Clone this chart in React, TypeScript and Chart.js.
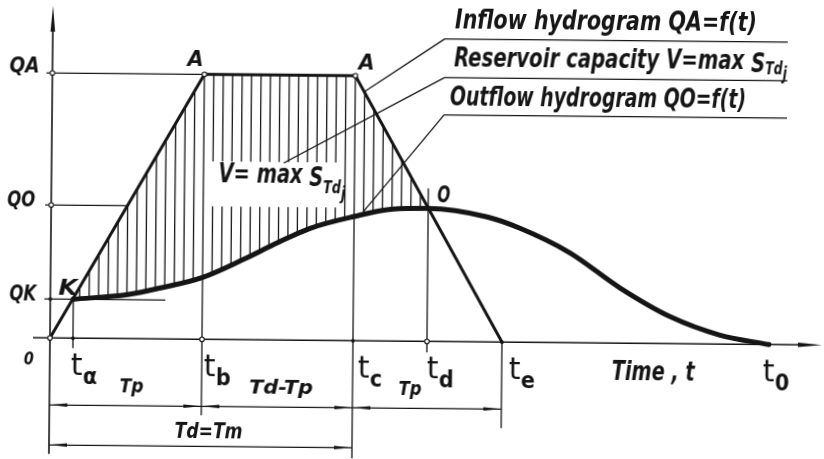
import { useEffect, useRef } from 'react';
import { Chart, registerables } from 'chart.js';

Chart.register(...registerables);

// Inflow hydrogram (trapezoid): time, discharge
const inflowTime = [0, 15.2, 30.3, 45.2];
const inflowQ = [0, 26.5, 26.5, 0];

// Outflow hydrogram from K through the peak O down to t0
const outflowTime = [2.3, 7.7, 11.0, 15.2, 19.2, 22.6, 25.9, 30.2, 34.2, 37.7, 43.6, 46.9, 51.9, 57.0, 62.0, 67.0, 71.9];
const outflowQ = [3.9, 4.4, 5.1, 6.2, 8.0, 9.7, 11.2, 12.4, 13.2, 13.3, 12.5, 11.4, 9.0, 5.5, 2.7, 0.9, 0];

// Discharge levels on the vertical axis
const levelNames = ['QA', 'QO', 'QK'];
const levelValues = [26.5, 13.3, 3.9];

// Characteristic instants on the time axis
const timeSubs = ['α', 'b', 'c', 'd', 'e', '0'];
const timeValues = [2.3, 15.2, 30.3, 37.7, 45.2, 71.9];

// Dimension chains below the time axis
const spanFrom = [0, 15.2, 30.3];
const spanTo = [15.2, 30.3, 45.2];
const spanNames = ['Tp', 'Td-Tp', 'Tp'];
const totalSpanName = 'Td=Tm';

const X_MIN = -5.1;
const X_MAX = 77.3;
const Y_MIN = -11.77;
const Y_MAX = 34.13;

const INK = '#151515';
const FAMILY = '"DejaVu Sans", sans-serif';

type Seg = { s: string; size: number; dy?: number; weight?: string; style?: string };

const fontOf = (g: Seg) => `${g.style ?? 'italic'} ${g.weight ?? 'bold'} ${g.size}px ${FAMILY}`;

// Draws a run of text pieces (with subscript offsets), optionally fitted to a width.
function rich(
  ctx: CanvasRenderingContext2D,
  segs: Seg[],
  x: number,
  y: number,
  opts: { width?: number; squeeze?: number; align?: 'left' | 'center' | 'right' } = {}
) {
  const ws: number[] = [];
  let total = 0;
  for (const g of segs) {
    ctx.font = fontOf(g);
    const w = ctx.measureText(g.s).width;
    ws.push(w);
    total += w;
  }
  const k = opts.width ? opts.width / total : opts.squeeze ?? 1;
  const drawn = total * k;
  let left = x;
  if (opts.align === 'center') left = x - drawn / 2;
  if (opts.align === 'right') left = x - drawn;
  ctx.save();
  ctx.translate(left, y);
  ctx.scale(k, 1);
  ctx.textBaseline = 'alphabetic';
  ctx.textAlign = 'left';
  let cx = 0;
  segs.forEach((g, i) => {
    ctx.font = fontOf(g);
    ctx.fillText(g.s, cx, g.dy ?? 0);
    cx += ws[i];
  });
  ctx.restore();
  return drawn;
}

function seg(ctx: CanvasRenderingContext2D, x1: number, y1: number, x2: number, y2: number) {
  ctx.beginPath();
  ctx.moveTo(x1, y1);
  ctx.lineTo(x2, y2);
  ctx.stroke();
}

function arrowHead(ctx: CanvasRenderingContext2D, tx: number, ty: number, dx: number, dy: number, len: number, half: number) {
  const bx = tx - dx * len;
  const by = ty - dy * len;
  const nx = -dy;
  const ny = dx;
  ctx.beginPath();
  ctx.moveTo(tx, ty);
  ctx.lineTo(bx + nx * half, by + ny * half);
  ctx.lineTo(bx - nx * half, by - ny * half);
  ctx.closePath();
  ctx.fill();
}

function ring(ctx: CanvasRenderingContext2D, x: number, y: number, r = 2.3) {
  ctx.save();
  ctx.beginPath();
  ctx.arc(x, y, r, 0, Math.PI * 2);
  ctx.fillStyle = '#fff';
  ctx.fill();
  ctx.lineWidth = 1.1;
  ctx.stroke();
  ctx.restore();
}

function dot(ctx: CanvasRenderingContext2D, x: number, y: number, r = 1.9) {
  ctx.beginPath();
  ctx.arc(x, y, r, 0, Math.PI * 2);
  ctx.fill();
}

function lerp(ts: number[], qs: number[], t: number) {
  for (let i = 1; i < ts.length; i++) {
    if (t <= ts[i]) {
      const f = (t - ts[i - 1]) / (ts[i] - ts[i - 1]);
      return qs[i - 1] + f * (qs[i] - qs[i - 1]);
    }
  }
  return qs[qs.length - 1];
}

const diagramPlugin = {
  id: 'hydrogramDiagram',
  afterDatasetsDraw(chart: any) {
    const ctx: CanvasRenderingContext2D = chart.ctx;
    const H = chart.height;
    const xs = chart.scales.x;
    const ys = chart.scales.y;
    const X = (v: number) => xs.getPixelForValue(v);
    const Y = (v: number) => ys.getPixelForValue(v);
    const [QA, QO, QK] = levelValues;
    const [ta, tb, tc, td, te] = timeValues;
    const x0 = X(0);
    const y0 = Y(0);

    ctx.save();
    ctx.strokeStyle = INK;
    ctx.fillStyle = INK;
    ctx.lineCap = 'butt';

    // "V = max S" label anchor inside the stored volume
    const vx = X(tb) + 15;
    const vy = Y(QO) - 24;
    const gap = { l: vx - 13, r: vx + 125, t: vy - 21, b: vy + 24 };

    // Vertical hatching of the stored volume: inside the inflow trapezoid, above the outflow curve
    const meta = chart.getDatasetMeta(1);
    const pts = meta.data as any[];
    ctx.save();
    ctx.beginPath();
    inflowTime.forEach((t, i) => (i ? ctx.lineTo(X(t), Y(inflowQ[i])) : ctx.moveTo(X(t), Y(inflowQ[i]))));
    ctx.closePath();
    ctx.clip();
    ctx.beginPath();
    let traced = false;
    try {
      const el: any = meta.dataset;
      if (el && typeof el.path === 'function') {
        el.path(ctx);
        traced = true;
      }
    } catch {
      traced = false;
    }
    if (!traced) {
      ctx.beginPath();
      pts.forEach((p, i) => (i ? ctx.lineTo(p.x, p.y) : ctx.moveTo(p.x, p.y)));
    }
    ctx.lineTo(pts[pts.length - 1].x, 0);
    ctx.lineTo(pts[0].x, 0);
    ctx.closePath();
    ctx.clip();
    const step = (X(tc) - X(tb)) / 16;
    ctx.lineWidth = 1.3;
    for (let k = -15; k <= 26; k++) {
      if (k === 0 || k === 16) continue;
      const x = X(tb) + k * step;
      ctx.beginPath();
      if (x > gap.l && x < gap.r) {
        ctx.moveTo(x, 0);
        ctx.lineTo(x, gap.t);
        ctx.moveTo(x, gap.b);
        ctx.lineTo(x, H);
      } else {
        ctx.moveTo(x, 0);
        ctx.lineTo(x, H);
      }
      ctx.stroke();
    }
    ctx.restore();

    // Axes
    ctx.lineWidth = 1.6;
    seg(ctx, x0, y0 + 116, x0, 30);
    arrowHead(ctx, x0, 9, 0, -1, 26, 2.3);
    seg(ctx, 34, y0, 806, y0);
    arrowHead(ctx, 823, y0, 1, 0, 24, 2.3);

    // Level guides
    ctx.lineWidth = 1.3;
    seg(ctx, x0 - 6, Y(QA), X(tb), Y(QA));
    seg(ctx, x0 - 6, Y(QO), X((QO / QA) * tb), Y(QO));
    seg(ctx, x0 - 6, Y(QK), X(ta + 9.2), Y(QK));

    // Time guides
    seg(ctx, X(ta), Y(QK), X(ta), y0 + 10);
    seg(ctx, X(tb), Y(QA), X(tb), y0 + 76);
    seg(ctx, X(tc), Y(QA), X(tc), H);
    seg(ctx, X(td), Y(QO) - 20, X(td), y0 + 11);
    seg(ctx, X(te), y0, X(te), y0 + 86);

    // Dimension chains
    const r1 = y0 + 67;
    const r2 = y0 + 107;
    seg(ctx, x0, r1, X(spanTo[spanTo.length - 1]), r1);
    seg(ctx, x0, r2, X(tc), r2);
    spanFrom.forEach((a, i) => {
      arrowHead(ctx, X(a), r1, -1, 0, 18, 1.8);
      arrowHead(ctx, X(spanTo[i]), r1, 1, 0, 18, 1.8);
    });
    arrowHead(ctx, x0, r2, -1, 0, 18, 1.8);
    arrowHead(ctx, X(tc), r2, 1, 0, 18, 1.8);
    const spanShift = [6, 4, -17];
    const spanWidth = [24, 64, 23];
    spanNames.forEach((name, i) => {
      const mid = (X(spanFrom[i]) + X(spanTo[i])) / 2 + spanShift[i];
      rich(ctx, [{ s: name, size: 20 }], mid, y0 + 53.5, { width: spanWidth[i], align: 'center' });
    });
    rich(ctx, [{ s: totalSpanName, size: 21 }], (x0 + X(tc)) / 2 + 8, y0 + 99, { width: 68, align: 'center' });

    // Point markers
    ring(ctx, x0, y0);
    ring(ctx, x0, Y(QA));
    ring(ctx, x0, Y(QO));
    ring(ctx, X(tb), y0);
    ring(ctx, X(td), y0);
    ring(ctx, X(tb), Y(QA));
    ring(ctx, X(tc), Y(QA));
    dot(ctx, x0, Y(QK));
    dot(ctx, X(ta), Y(QK), 2.4);
    dot(ctx, X(ta), y0);
    dot(ctx, X(tc), y0);
    dot(ctx, X(te), y0);
    dot(ctx, X(td), Y(QO), 2.2);

    // Level names
    const levelWidth = [30, 28, 27];
    const levelGap = [13, 16, 14];
    const levelDy = [0, 2, 2];
    levelNames.forEach((name, i) => {
      rich(ctx, [{ s: name, size: 21 }], x0 - levelGap[i], Y(levelValues[i]) + levelDy[i], {
        width: levelWidth[i],
        align: 'right',
      });
    });
    rich(ctx, [{ s: '0', size: 18 }], x0 - 26, y0 + 27, { width: 10 });

    // Point letters
    rich(ctx, [{ s: 'A', size: 21 }], X(tb) - 17, Y(QA) - 8, { width: 16 });
    rich(ctx, [{ s: 'A', size: 21 }], X(tc) + 3, Y(QA) - 6, { width: 16 });
    rich(ctx, [{ s: 'K', size: 21 }], X(ta) - 15, Y(QK) - 4, { width: 19 });
    rich(ctx, [{ s: 'O', size: 23 }], X(td) + 9, Y(QO) - 6, { width: 13 });

    // Time names: t with a dropped subscript
    const timeShift = [-2, 2, 5, 0, 7, -6];
    timeValues.forEach((t, i) => {
      const lx = X(t) + timeShift[i];
      const w = rich(ctx, [{ s: 't', size: 30, weight: 'normal', style: 'normal' }], lx, y0 + 37);
      rich(ctx, [{ s: timeSubs[i], size: 23, style: 'normal' }], lx + w + 0.5, y0 + 45.5, { squeeze: 0.9 });
    });
    rich(ctx, [{ s: 'Time , t', size: 26 }], 613, y0 + 37, { width: 83 });

    // V = max S_Td_j inside the hatched volume
    rich(
      ctx,
      [
        { s: 'V= max ', size: 26 },
        { s: 'S', size: 26, dy: 3 },
        { s: 'Td', size: 17, dy: 10 },
        { s: 'j', size: 17, dy: 16 },
      ],
      vx,
      vy,
      { width: 127 }
    );

    // Captions with leaders
    ctx.lineWidth = 1.3;
    const capL = 443;
    const capR = 786;
    const lines = [38.6, 77.4, 114.6];
    lines.forEach((ly) => seg(ctx, capL, ly, capR, ly));
    const tl1 = 31.2;
    seg(ctx, capL, lines[0], X(tl1), Y(lerp(inflowTime, inflowQ, tl1)));
    seg(ctx, capL, lines[1], vx + 65, gap.t + 1);
    const tl3 = 31.2;
    seg(ctx, capL, lines[2], X(tl3), Y(lerp(outflowTime, outflowQ, tl3)) - 3);

    rich(ctx, [{ s: 'Inflow hydrogram QA=f(t)', size: 27 }], 453, 28, { width: 302 });
    rich(
      ctx,
      [
        { s: 'Reservoir capacity V=max ', size: 27 },
        { s: 'S', size: 27, dy: 3 },
        { s: 'Td', size: 17, dy: 5 },
        { s: 'j', size: 17, dy: 10 },
      ],
      452.4,
      66,
      { width: 333 }
    );
    rich(ctx, [{ s: 'Outflow hydrogram QO=f(t)', size: 27 }], 448.8, 104.6, { width: 296 });

    ctx.restore();
  },
};

export default function App() {
  const ref = useRef<HTMLCanvasElement>(null);

  useEffect(() => {
    const canvas = ref.current;
    if (!canvas) return;
    const chart = new Chart(canvas, {
      type: 'line',
      data: {
        datasets: [
          {
            label: 'Inflow hydrogram',
            data: inflowTime.map((t, i) => ({ x: t, y: inflowQ[i] })),
            borderColor: INK,
            borderWidth: 3,
            pointRadius: 0,
            tension: 0,
            fill: false,
          },
          {
            label: 'Outflow hydrogram',
            data: outflowTime.map((t, i) => ({ x: t, y: outflowQ[i] })),
            borderColor: INK,
            borderWidth: 5,
            borderCapStyle: 'round',
            pointRadius: 0,
            cubicInterpolationMode: 'monotone',
            fill: false,
          },
        ],
      },
      options: {
        responsive: false,
        animation: false,
        devicePixelRatio: 1,
        events: [],
        layout: { padding: 0 },
        scales: {
          x: { type: 'linear', display: false, min: X_MIN, max: X_MAX },
          y: { type: 'linear', display: false, min: Y_MIN, max: Y_MAX },
        },
        plugins: {
          legend: { display: false },
          tooltip: { enabled: false },
        },
      },
      plugins: [diagramPlugin],
    } as any);
    return () => chart.destroy();
  }, []);

  return (
    <div
      style={{
        position: 'fixed',
        left: 0,
        top: 0,
        width: 824,
        height: 459,
        background: '#fff',
        overflow: 'hidden',
      }}
    >
      <canvas
        ref={ref}
        width={824}
        height={459}
        style={{
          display: 'block',
          width: 824,
          height: 459,
          transform: 'rotate(0.53deg)',
          transformOrigin: '412px 229.5px',
        }}
      />
    </div>
  );
}
